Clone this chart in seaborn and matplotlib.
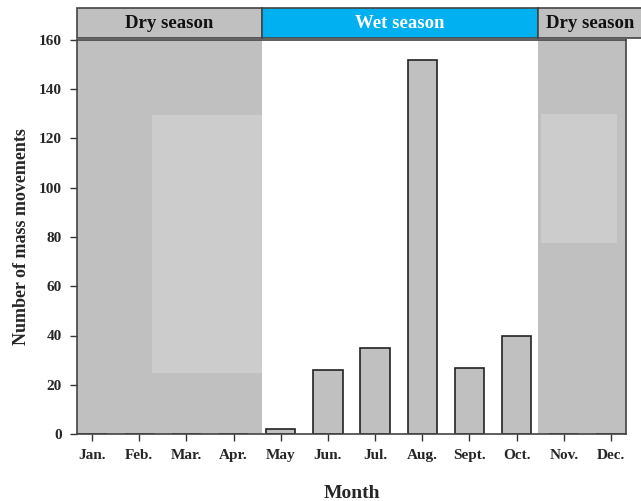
import matplotlib
matplotlib.use("Agg")
import matplotlib.pyplot as plt
import matplotlib.transforms as mtransforms
from matplotlib.patches import Rectangle
import seaborn as sns
import pandas as pd

months = ["Jan.", "Feb.", "Mar.", "Apr.", "May", "Jun.", "Jul.", "Aug.", "Sept.", "Oct.", "Nov.", "Dec."]
counts = [0, 0, 0, 0, 2, 26, 35, 152, 27, 40, 0, 0]
seasons = ["Dry season", "Wet season", "Dry season"]
season_bounds = [(-0.32, 3.61), (3.61, 9.45), (9.45, 11.68)]
season_colors = ["#c0c0c0", "#00b0f0", "#c0c0c0"]
season_text_colors = ["#111111", "white", "#111111"]
yticks = [0, 20, 40, 60, 80, 100, 120, 140, 160]

sns.set_theme(style="ticks")
plt.rcParams["font.family"] = ["Liberation Serif", "DejaVu Serif"]
plt.rcParams["font.weight"] = "bold"

df = pd.DataFrame({"Month": months, "Count": counts})

fig = plt.figure(figsize=(6.41, 5.01), dpi=100)
ax = fig.add_axes([77 / 641, (501 - 434) / 501, (626 - 77) / 641, (434 - 40) / 501])

# dry season shading
ax.axvspan(season_bounds[0][0], season_bounds[0][1], color="#c0c0c0", zorder=0, lw=0)
ax.axvspan(season_bounds[2][0], 11.32, color="#c0c0c0", zorder=0, lw=0)
# lighter patches
ax.add_patch(Rectangle((1.27, 24.8), 3.61 - 1.27, 129.5 - 24.8, color="#cccccc", lw=0, zorder=0.5))
ax.add_patch(Rectangle((9.51, 77.6), 11.13 - 9.51, 130 - 77.6, color="#cccccc", lw=0, zorder=0.5))

sns.barplot(data=df, x="Month", y="Count", color="#c0c0c0", edgecolor="#222222",
            linewidth=1.2, width=0.62, saturation=1, ax=ax, zorder=2)

ax.set_xlim(-0.32, 11.32)
ax.set_ylim(0, 160)
ax.set_yticks(yticks)
ax.set_yticklabels([str(v) for v in yticks], fontsize=11, fontweight="bold")
ax.set_xticks(range(len(months)))
ax.set_xticklabels(months, fontsize=11, fontweight="bold")
ax.tick_params(axis="both", direction="out", length=5, width=1, color="#333333", pad=6)
for s in ax.spines.values():
    s.set_color("#444444")
    s.set_linewidth(1.2)
    s.set_visible(True)

ax.set_ylabel("Number of mass movements", fontsize=13, fontweight="bold", labelpad=6)
ax.set_xlabel("Month", fontsize=14, fontweight="bold", labelpad=16)

# season header
trans = mtransforms.blended_transform_factory(ax.transData, ax.transAxes)
y0, y1 = 1.005, 1.081
for (a, b), name, c, tc in zip(season_bounds, seasons, season_colors, season_text_colors):
    ax.add_patch(Rectangle((a, y0), b - a, y1 - y0, transform=trans, facecolor=c,
                           edgecolor="#444444", lw=1.2, clip_on=False, zorder=5))
    ax.text((a + b) / 2, (y0 + y1) / 2, name, transform=trans, ha="center", va="center",
            fontsize=13.5, fontweight="bold", color=tc, clip_on=False, zorder=6)

fig.savefig("out.png", dpi=100)
